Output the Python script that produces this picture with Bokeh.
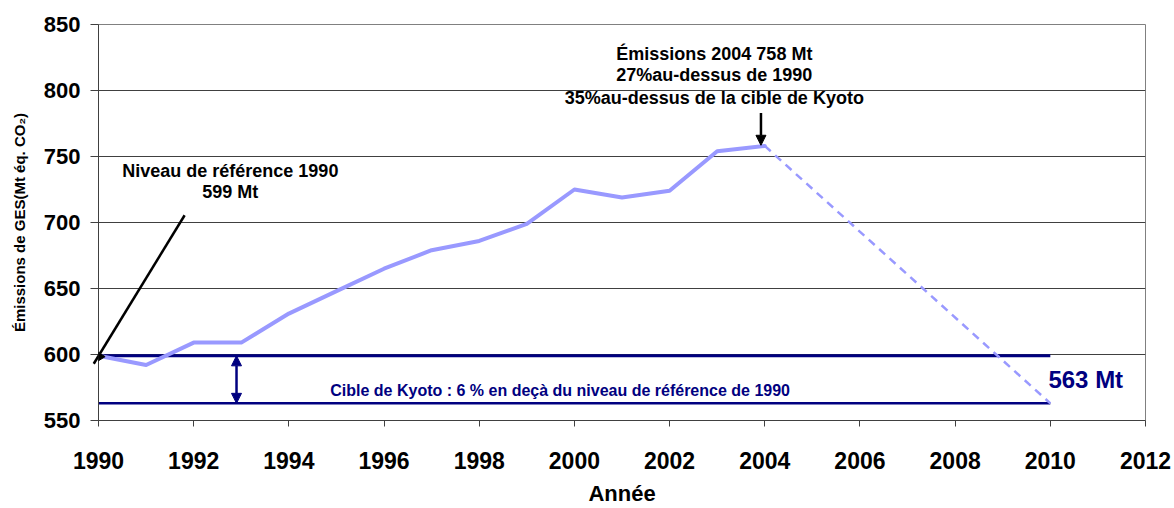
from bokeh.plotting import figure
from bokeh.models import Range1d, FixedTicker, Label, Arrow, NormalHead, ColumnDataSource
from bokeh.embed import file_html
from bokeh.resources import INLINE

# ---- data ----
years = [1990, 1991, 1992, 1993, 1994, 1995, 1996, 1997, 1998, 1999, 2000, 2001, 2002, 2003, 2004]
emissions = [599, 592, 609, 609, 631, 648, 665, 679, 686, 699, 725, 719, 724, 754, 758]
proj_years = [2004, 2010]
proj_values = [758, 563]
base_1990 = 599
kyoto_target = 563
target_years = [1990, 2010]
x_ticks = [1990, 1992, 1994, 1996, 1998, 2000, 2002, 2004, 2006, 2008, 2010, 2012]
y_ticks = [550, 600, 650, 700, 750, 800, 850]

FONT = "Liberation Sans, Arial, sans-serif"
NAVY = "#000080"
CURVE = "#9999FF"

p = figure(width=1174, height=508, output_backend="svg", toolbar_location=None,
           x_range=Range1d(1990, 2012), y_range=Range1d(550, 850),
           min_border_left=98, min_border_right=29, min_border_top=24, min_border_bottom=84)
p.background_fill_color = "white"
p.border_fill_color = "white"
p.outline_line_color = "#808080"
p.outline_line_width = 1

p.xgrid.visible = False
p.ygrid.grid_line_color = "#404040"
p.ygrid.grid_line_width = 1
p.ygrid.ticker = FixedTicker(ticks=y_ticks)

p.xaxis.ticker = FixedTicker(ticks=x_ticks)
p.yaxis.ticker = FixedTicker(ticks=y_ticks)
for ax in (p.xaxis, p.yaxis):
    ax.axis_line_color = "#404040"
    ax.major_tick_line_color = "#404040"
    ax.minor_tick_line_color = None
    ax.major_tick_in = 0
    ax.major_label_text_font = FONT
    ax.major_label_text_font_style = "bold"
    ax.major_label_text_color = "black"
    ax.axis_label_text_font = FONT
    ax.axis_label_text_font_style = "bold"
    ax.axis_label_text_color = "black"
p.xaxis.major_label_text_font_size = "23px"
p.yaxis.major_label_text_font_size = "22px"
p.xaxis.major_tick_out = 6
p.yaxis.major_tick_out = 8
p.xaxis.major_label_standoff = 25
p.yaxis.major_label_standoff = 10
p.xaxis.axis_label = "Année"
p.xaxis.axis_label_text_font_size = "22px"
p.xaxis.axis_label_standoff = 9
p.yaxis.axis_label = "Émissions de GES(Mt éq. CO₂)"
p.yaxis.axis_label_text_font_size = "15px"
p.yaxis.axis_label_standoff = 13

# target lines
p.line(target_years, [base_1990, base_1990], line_color=NAVY, line_width=3)
p.line(target_years, [kyoto_target, kyoto_target], line_color=NAVY, line_width=2.5)

# emissions curve
src = ColumnDataSource(dict(x=years, y=emissions))
p.line("x", "y", source=src, line_color=CURVE, line_width=4, line_join="round", line_cap="round")
p.line(proj_years, proj_values, line_color=CURVE, line_width=2.5, line_dash="8 6")

# double arrow between reference and target
p.add_layout(Arrow(start=NormalHead(size=10, fill_color=NAVY, line_color=NAVY),
                   end=NormalHead(size=10, fill_color=NAVY, line_color=NAVY),
                   x_start=1992.9, y_start=kyoto_target, x_end=1992.9, y_end=base_1990,
                   line_color=NAVY, line_width=2.5))

# reference arrow
p.add_layout(Arrow(end=NormalHead(size=12, fill_color="black", line_color="black"),
                   x_start=1991.81, y_start=705.5, x_end=1989.9, y_end=593,
                   line_color="black", line_width=2.5))
# 2004 arrow
p.add_layout(Arrow(end=NormalHead(size=10, fill_color="black", line_color="black"),
                   x_start=2003.92, y_start=783, x_end=2003.92, y_end=758.5,
                   line_color="black", line_width=2.5))

def lab(x, y, text, size, color="black", align="center"):
    p.add_layout(Label(x=x, y=y, text=text, text_font=FONT, text_font_style="bold",
                       text_font_size=size, text_color=color, text_align=align,
                       text_baseline="middle"))

lab(1992.77, 739, "Niveau de référence 1990", "18px")
lab(1992.77, 723, "599 Mt", "18px")
lab(2002.94, 828, "Émissions 2004 758 Mt", "18px")
lab(2002.94, 811.5, "27%au-dessus de 1990", "18px")
lab(2002.94, 794.5, "35%au-dessus de la cible de Kyoto", "18px")
lab(1999.7, 572.5, "Cible de Kyoto : 6 % en deçà du niveau de référence de 1990", "16px", NAVY)
lab(2009.96, 580.7, "563 Mt", "24px", NAVY, "left")

open("out.html", "w").write(file_html(p, INLINE))
